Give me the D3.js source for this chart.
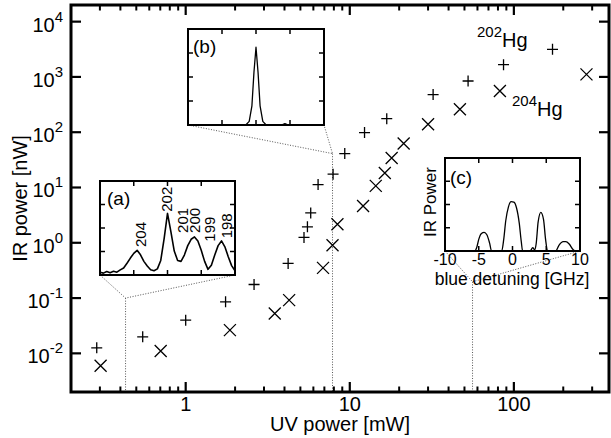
<!DOCTYPE html>
<html>
<head>
<meta charset="utf-8">
<script src="https://cdn.jsdelivr.net/npm/d3@7"></script>
<style>
  body { margin: 0; background: #fff; }
  svg { display: block; font-family: "Liberation Sans", Arial, Helvetica, sans-serif; }
</style>
</head>
<body>
<svg id="chart" width="611" height="438"></svg>
<script>
// main plot: IR power [nW] against UV power [mW]
const hg202Uv = [0.287, 0.547, 1.0, 1.75, 2.61, 4.21, 5.26, 5.52, 5.78, 6.41, 7.91, 9.32, 12.3, 16.8, 32.2, 52.6, 86.5, 172];
const hg202Ir = [0.0126, 0.0199, 0.0399, 0.0855, 0.176, 0.423, 1.25, 1.94, 3.47, 11.3, 17.4, 41.1, 98.5, 176, 479, 844, 1668, 3155];
const hg204Uv = [0.303, 0.704, 1.86, 3.49, 4.27, 6.87, 7.85, 8.41, 12.05, 14.4, 16.35, 18.0, 21.3, 30.0, 46.9, 82.2, 277];
const hg204Ir = [0.00596, 0.011, 0.0263, 0.0527, 0.0918, 0.352, 0.905, 2.17, 4.64, 10.7, 18.3, 34.2, 62.3, 139, 260, 556, 1114];

const xMajor = [1, 10, 100];
const xMinor = [0.3, 0.4, 0.5, 0.6, 0.7, 0.8, 0.9, 2, 3, 4, 5, 6, 7, 8, 9, 20, 30, 40, 50, 60, 70, 80, 90, 200, 300];
const yExponents = [-2, -1, 0, 1, 2, 3, 4];

// where each inset spectrum was taken (a, b, c)
const zoomUv = [0.43, 7.85, 56];
const zoomIr = [0.1, 41, 0.197];

// inset (a): isotope scan, arbitrary units
const scanAPos = [0, 0.1, 0.2, 0.3, 0.4, 0.5, 0.6, 0.7, 0.8, 0.9, 1.0, 1.1, 1.2, 1.3, 1.4, 1.5, 1.6, 1.7, 1.8, 1.9, 2.0,
  2.1, 2.2, 2.3, 2.4, 2.5, 2.6, 2.7, 2.8, 2.9, 3.0, 3.1, 3.2, 3.3, 3.4, 3.5, 3.6, 3.7, 3.8, 3.9, 4.0];
const scanAVal = [0.12, 0.08, 0.15, 0.10, 0.16, 0.12, 0.22, 0.30, 0.50, 0.72, 0.92, 1.05, 0.86, 0.58, 0.38, 0.22, 0.18, 0.26, 0.62, 1.55, 2.62,
  1.85, 1.02, 0.62, 0.58, 0.85, 1.25, 1.52, 1.62, 1.45, 1.05, 0.58, 0.24, 0.42, 0.85, 1.25, 1.45, 1.20, 0.78, 0.40, 0.18];
const isotopeNames = ["204", "202", "201", "200", "199", "198"];
const isotopePos = [1.19, 1.98, 2.45, 2.79, 3.26, 3.75];
const isotopeTop = [1.19, 2.69, 1.79, 1.79, 1.42, 1.56];

// inset (b): single narrow line
const scanBPos = [0, 1.7, 1.8, 1.88, 1.94, 2.0, 2.06, 2.12, 2.2, 2.3, 2.75, 2.85, 2.95, 4];
const scanBVal = [0, 0, 0.15, 0.8, 2.2, 3.24, 2.2, 0.8, 0.15, 0, 0, 0.06, 0, 0];

// inset (c): IR power against blue detuning [GHz]
const detuning = [-10, -5.6, -5.3, -5.0, -4.6, -4.2, -3.8, -3.4, -3.1, -1.6, -1.3, -1.0, -0.6, -0.2, 0.2, 0.6, 1.0, 1.3, 1.5,
  2.6, 3.0, 3.3, 3.5, 3.8, 4.2, 4.6, 4.9, 5.2, 6.4, 6.9, 7.5, 7.9, 8.4, 9.0, 9.3, 10];
const irPowerC = [0, 0, 0.15, 0.5, 0.75, 0.8, 0.7, 0.35, 0, 0, 0.5, 1.3, 1.9, 2.12, 2.1, 1.85, 1.2, 0.4, 0,
  0, 0.14, 0.05, 0.3, 1.25, 1.66, 1.35, 0.5, 0, 0, 0.25, 0.4, 0.4, 0.3, 0.05, 0, 0];
const detuningTicks = [-10, -5, 0, 5, 10];

const margin = { top: 5, right: 2, bottom: 46, left: 71 };
const width = 611 - margin.left - margin.right;
const height = 438 - margin.top - margin.bottom;

const svg = d3.select("#chart");

const x = d3.scaleLog().domain([0.2, 380]).range([margin.left, margin.left + width]);
const y = d3.scaleLog().domain([0.002, 20000]).range([margin.top + height, margin.top]);

const dotted = { stroke: "#555", width: 1, dash: "1,1.6" };

function tickLines(g, data, pos, len, horizontal) {
  g.selectAll(null).data(data).enter().append("line")
    .attr("x1", d => horizontal ? pos(d) : len[0])
    .attr("x2", d => horizontal ? pos(d) : len[1])
    .attr("y1", d => horizontal ? len[0] : pos(d))
    .attr("y2", d => horizontal ? len[1] : pos(d));
}

// ---- connectors from insets to the points they belong to
const insets = [
  { name: "(a)", x0: 100, y0: 181, w: 135, h: 94 },
  { name: "(b)", x0: 188, y0: 29, w: 136, h: 96 },
  { name: "(c)", x0: 445, y0: 158, w: 135, h: 93 }
];

const plotTop = margin.top;
const plotBottom = margin.top + height;
const plotLeft = margin.left;
const plotRight = margin.left + width;

const links = svg.append("g")
  .attr("fill", "none")
  .attr("stroke", dotted.stroke)
  .attr("stroke-width", dotted.width)
  .attr("stroke-dasharray", dotted.dash);

insets.forEach((ins, i) => {
  const jx = x(zoomUv[i]);
  const jy = y(zoomIr[i]);
  const insBottom = ins.y0 + ins.h;
  links.append("path")
    .attr("d", `M${ins.x0},${insBottom}L${jx},${jy}L${ins.x0 + ins.w},${insBottom}M${jx},${jy}V${plotBottom}`);
});

// ---- main data markers
const marks = svg.append("g").attr("fill", "none").attr("stroke", "#000").attr("stroke-width", 1.3);

marks.selectAll(".plus")
  .data(hg202Uv.map((d, i) => [d, hg202Ir[i]]))
  .enter().append("path")
  .attr("class", "plus")
  .attr("transform", d => `translate(${x(d[0])},${y(d[1])})`)
  .attr("d", "M-5.5,0H5.5M0,-5.5V5.5");

marks.selectAll(".cross")
  .data(hg204Uv.map((d, i) => [d, hg204Ir[i]]))
  .enter().append("path")
  .attr("class", "cross")
  .attr("transform", d => `translate(${x(d[0])},${y(d[1])})`)
  .attr("d", "M-6,-6L6,6M-6,6L6,-6");

// ---- main frame, ticks and labels
const frame = svg.append("g").attr("stroke", "#000");

const majorTicks = frame.append("g").attr("stroke-width", 2.2);
tickLines(majorTicks, xMajor, x, [plotBottom, plotBottom - 10], true);
tickLines(majorTicks, xMajor, x, [plotTop, plotTop + 10], true);
tickLines(majorTicks, yExponents.map(e => Math.pow(10, e)), y, [plotLeft, plotLeft + 10], false);
tickLines(majorTicks, yExponents.map(e => Math.pow(10, e)), y, [plotRight, plotRight - 10], false);

const minorTicks = frame.append("g").attr("stroke-width", 2);
tickLines(minorTicks, xMinor, x, [plotBottom, plotBottom - 5.5], true);
tickLines(minorTicks, xMinor, x, [plotTop, plotTop + 5.5], true);

frame.append("rect")
  .attr("x", plotLeft).attr("y", plotTop)
  .attr("width", width).attr("height", height)
  .attr("fill", "none").attr("stroke-width", 3);

svg.append("g")
  .attr("font-size", 20)
  .attr("text-anchor", "middle")
  .selectAll("text")
  .data(xMajor)
  .enter().append("text")
  .attr("x", d => x(d))
  .attr("y", 411)
  .text(d => d);

const yLabels = svg.append("g")
  .attr("font-size", 20)
  .attr("text-anchor", "end")
  .selectAll("text")
  .data(yExponents)
  .enter().append("text")
  .attr("x", 63)
  .attr("y", d => y(Math.pow(10, d)) + 10);
yLabels.append("tspan").text("10");
yLabels.append("tspan").attr("font-size", 15).attr("dy", -10).text(d => d);

svg.append("text")
  .attr("x", (plotLeft + plotRight) / 2)
  .attr("y", 431)
  .attr("text-anchor", "middle")
  .attr("font-size", 20)
  .text("UV power [mW]");

svg.append("text")
  .attr("transform", `translate(27,${(plotTop + plotBottom) / 2}) rotate(-90)`)
  .attr("text-anchor", "middle")
  .attr("font-size", 20)
  .text("IR power [nW]");

// isotope labels
function isotopeLabel(px, py, mass) {
  const t = svg.append("text").attr("x", px).attr("y", py);
  t.append("tspan").attr("font-size", 15).attr("dy", -10).text(mass);
  t.append("tspan").attr("font-size", 20).attr("dy", 10).text("Hg");
}
isotopeLabel(477, 47, "202");
isotopeLabel(512, 115.5, "204");

// ---- insets
function drawInset(ins, xDomain, xTicks, posArr, valArr, curve, strokeW) {
  const ix = d3.scaleLinear().domain(xDomain).range([ins.x0, ins.x0 + ins.w]);
  const iy = d3.scaleLinear().domain([0, 4]).range([ins.y0 + ins.h, ins.y0]);
  const g = svg.append("g");

  g.append("rect")
    .attr("x", ins.x0).attr("y", ins.y0)
    .attr("width", ins.w).attr("height", ins.h)
    .attr("fill", "#fff");

  const clipId = "clip" + ins.name.replace(/\W/g, "");
  g.append("clipPath").attr("id", clipId)
    .append("rect")
    .attr("x", ins.x0).attr("y", ins.y0)
    .attr("width", ins.w).attr("height", ins.h);

  const line = d3.line()
    .x((d, i) => ix(posArr[i]))
    .y(d => iy(d))
    .curve(curve);

  g.append("path")
    .attr("clip-path", `url(#${clipId})`)
    .attr("d", line(valArr))
    .attr("fill", "none")
    .attr("stroke", "#000")
    .attr("stroke-width", strokeW)
    .attr("stroke-linejoin", "round");

  const t = g.append("g").attr("stroke", "#000").attr("stroke-width", 1.5);
  const ib = ins.y0 + ins.h, ir = ins.x0 + ins.w;
  tickLines(t, xTicks, ix, [ib, ib - 5], true);
  tickLines(t, xTicks, ix, [ins.y0, ins.y0 + 5], true);
  tickLines(t, [1, 2, 3], iy, [ins.x0, ins.x0 + 5], false);
  tickLines(t, [1, 2, 3], iy, [ir, ir - 5], false);

  g.append("rect")
    .attr("x", ins.x0).attr("y", ins.y0)
    .attr("width", ins.w).attr("height", ins.h)
    .attr("fill", "none").attr("stroke", "#000").attr("stroke-width", 2);

  return { g, ix, iy };
}

const insetA = drawInset(insets[0], [0, 4], [1, 2, 3], scanAPos, scanAVal, d3.curveLinear, 1.6);
insetA.g.append("text").attr("x", 107).attr("y", 205).attr("font-size", 19).text("(a)");
insetA.g.append("g")
  .attr("font-size", 15)
  .selectAll("text")
  .data(isotopeNames)
  .enter().append("text")
  .attr("transform", (d, i) => `translate(${insetA.ix(isotopePos[i])},${insetA.iy(isotopeTop[i])}) rotate(-90)`)
  .attr("dy", "0.36em")
  .text(d => d);

const insetB = drawInset(insets[1], [0, 4], [1, 2, 3], scanBPos, scanBVal, d3.curveLinear, 1.3);
insetB.g.append("text").attr("x", 193).attr("y", 53).attr("font-size", 19).text("(b)");

const insetC = drawInset(insets[2], [-10, 10], [-5, 0, 5], detuning, irPowerC, d3.curveMonotoneX, 1.3);
insetC.g.append("text").attr("x", 450).attr("y", 184).attr("font-size", 19).text("(c)");
insetC.g.append("g")
  .attr("font-size", 16)
  .attr("text-anchor", "middle")
  .selectAll("text")
  .data(detuningTicks)
  .enter().append("text")
  .attr("x", d => insetC.ix(d))
  .attr("y", 265)
  .text(d => d);
insetC.g.append("text")
  .attr("x", 512)
  .attr("y", 285)
  .attr("text-anchor", "middle")
  .attr("font-size", 17.5)
  .text("blue detuning [GHz]");
insetC.g.append("text")
  .attr("transform", "translate(436,202) rotate(-90)")
  .attr("text-anchor", "middle")
  .attr("font-size", 17)
  .text("IR Power");
</script>
</body>
</html>
